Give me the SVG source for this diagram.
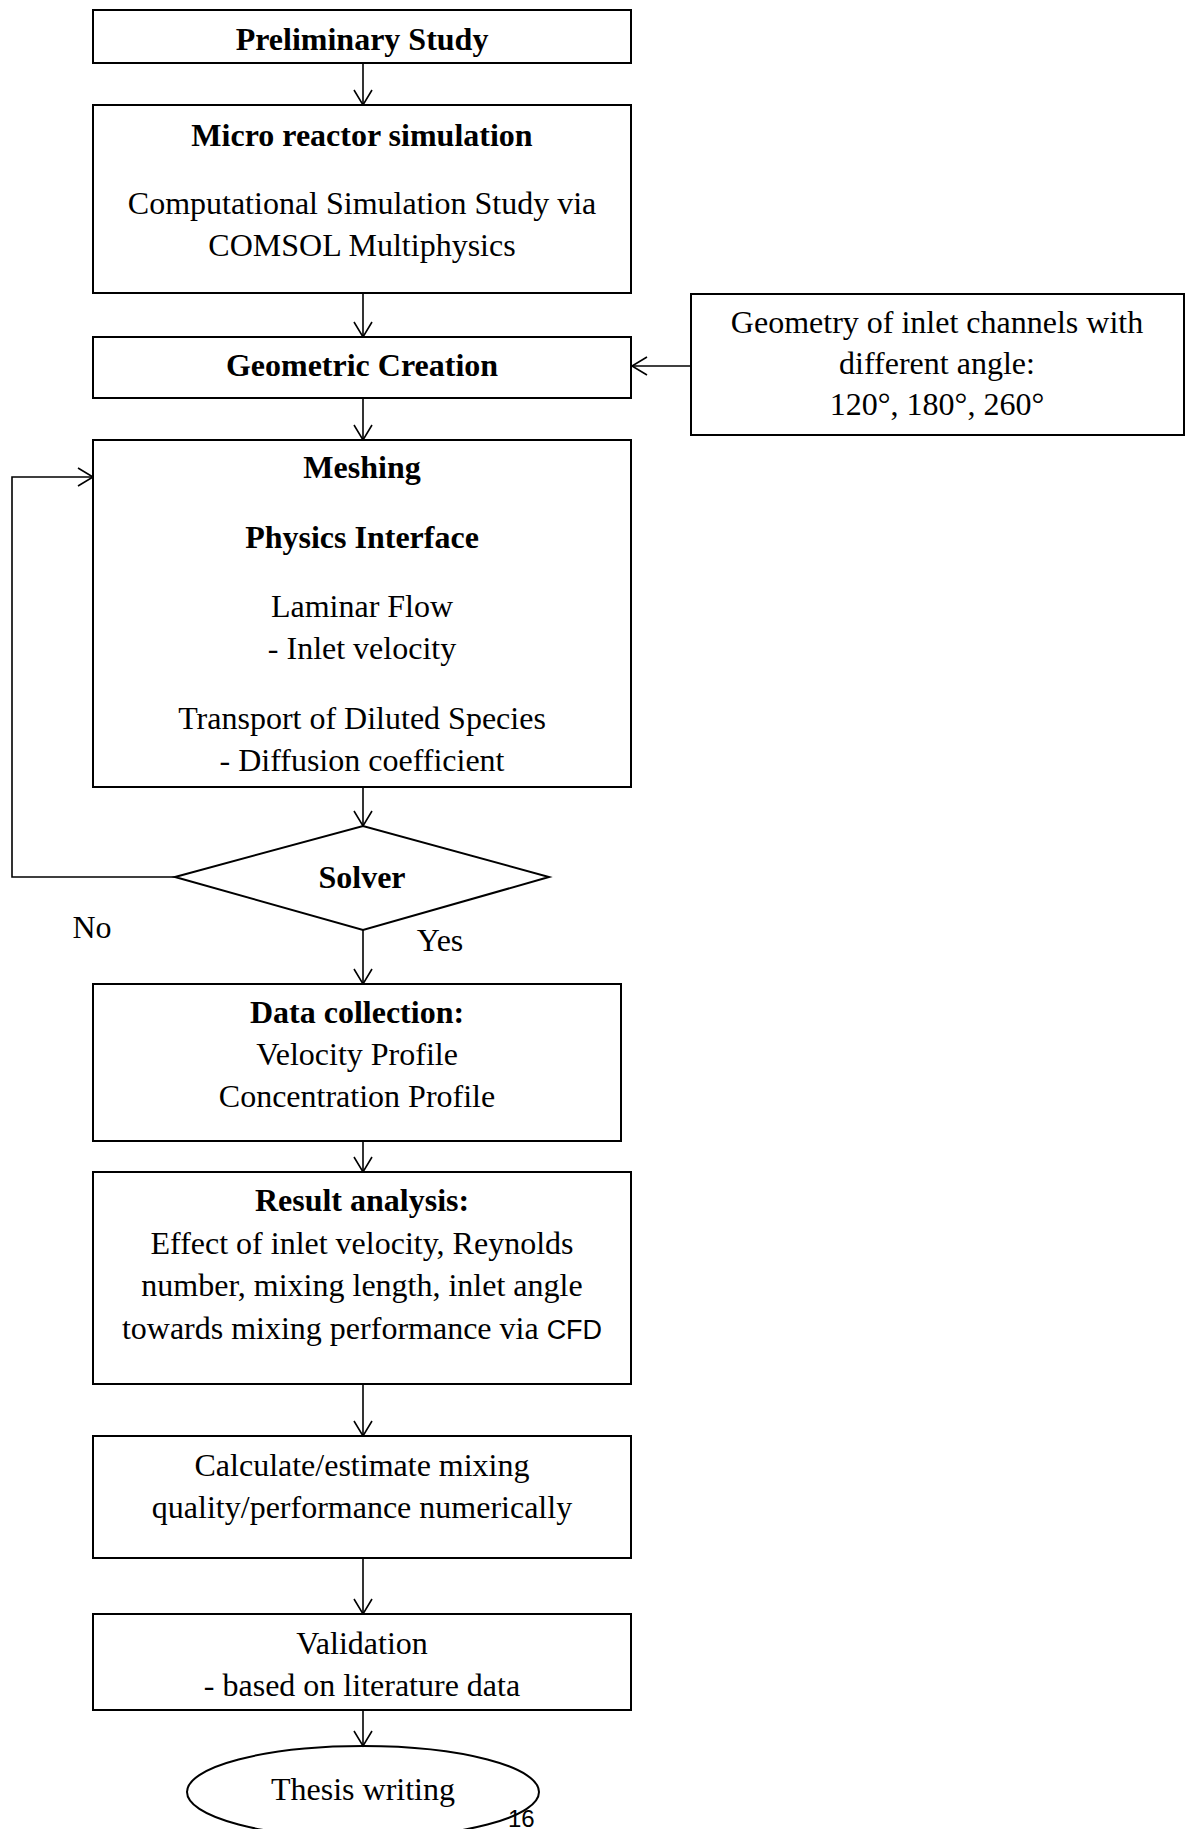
<svg xmlns="http://www.w3.org/2000/svg" width="1189" height="1829" viewBox="0 0 1189 1829">
<style>
.box{fill:#fff;stroke:#000;stroke-width:2}
.t{font-family:"Liberation Serif","Times New Roman",serif;font-size:32px;fill:#000;text-anchor:middle}
.b{font-weight:bold}
.s{font-family:"Liberation Sans",Arial,sans-serif;font-size:27px}
.c{fill:none;stroke:#000;stroke-width:1.6}
</style>
<defs>
<marker id="ah" viewBox="0 0 20 20" refX="16" refY="10" markerWidth="20" markerHeight="20" markerUnits="userSpaceOnUse" orient="auto">
<path d="M1,1 L16,10 L1,19" fill="none" stroke="#000" stroke-width="1.6"/>
</marker>
</defs>
<rect width="1189" height="1829" fill="#fff"/>

<g id="connectors">
<line class="c" x1="363" y1="63" x2="363" y2="105" marker-end="url(#ah)"/>
<line class="c" x1="363" y1="293" x2="363" y2="337" marker-end="url(#ah)"/>
<line class="c" x1="363" y1="398" x2="363" y2="440" marker-end="url(#ah)"/>
<line class="c" x1="691" y1="366" x2="632" y2="366" marker-end="url(#ah)"/>
<line class="c" x1="363" y1="787" x2="363" y2="826" marker-end="url(#ah)"/>
<polyline class="c" points="175,877 12,877 12,477 93,477" marker-end="url(#ah)"/>
<line class="c" x1="363" y1="930" x2="363" y2="984" marker-end="url(#ah)"/>
<line class="c" x1="363" y1="1141" x2="363" y2="1172" marker-end="url(#ah)"/>
<line class="c" x1="363" y1="1384" x2="363" y2="1436" marker-end="url(#ah)"/>
<line class="c" x1="363" y1="1558" x2="363" y2="1614" marker-end="url(#ah)"/>
<line class="c" x1="363" y1="1710" x2="363" y2="1746" marker-end="url(#ah)"/>
</g>

<g id="preliminary">
<rect class="box" x="93" y="10" width="538" height="53"/>
<text class="t b" x="362" y="50">Preliminary Study</text>
</g>

<g id="micro">
<rect class="box" x="93" y="105" width="538" height="188"/>
<text class="t b" x="362" y="146">Micro reactor simulation</text>
<text class="t" x="362" y="214">Computational Simulation Study via</text>
<text class="t" x="362" y="256">COMSOL Multiphysics</text>
</g>

<g id="geometric">
<rect class="box" x="93" y="337" width="538" height="61"/>
<text class="t b" x="362" y="376">Geometric Creation</text>
</g>

<g id="geometry-input">
<rect class="box" x="691" y="294" width="493" height="141"/>
<text class="t" x="937" y="333">Geometry of inlet channels with</text>
<text class="t" x="937" y="374">different angle:</text>
<text class="t" x="937" y="415">120°, 180°, 260°</text>
</g>

<g id="meshing">
<rect class="box" x="93" y="440" width="538" height="347"/>
<text class="t b" x="362" y="478">Meshing</text>
<text class="t b" x="362" y="548">Physics Interface</text>
<text class="t" x="362" y="617">Laminar Flow</text>
<text class="t" x="362" y="659">- Inlet velocity</text>
<text class="t" x="362" y="729">Transport of Diluted Species</text>
<text class="t" x="362" y="771">- Diffusion coefficient</text>
</g>

<g id="solver">
<polygon class="box" points="175,877 363,826 549,877 363,930"/>
<text class="t b" x="362" y="888">Solver</text>
</g>

<g id="labels">
<text class="t" x="92" y="938">No</text>
<text class="t" x="440" y="951">Yes</text>
</g>

<g id="data-collection">
<rect class="box" x="93" y="984" width="528" height="157"/>
<text class="t b" x="357" y="1023">Data collection:</text>
<text class="t" x="357" y="1065">Velocity Profile</text>
<text class="t" x="357" y="1107">Concentration Profile</text>
</g>

<g id="result-analysis">
<rect class="box" x="93" y="1172" width="538" height="212"/>
<text class="t b" x="362" y="1211">Result analysis:</text>
<text class="t" x="362" y="1254">Effect of inlet velocity, Reynolds</text>
<text class="t" x="362" y="1296">number, mixing length, inlet angle</text>
<text class="t" x="362" y="1339">towards mixing performance via <tspan class="s">CFD</tspan></text>
</g>

<g id="calculate">
<rect class="box" x="93" y="1436" width="538" height="122"/>
<text class="t" x="362" y="1476">Calculate/estimate mixing</text>
<text class="t" x="362" y="1518">quality/performance numerically</text>
</g>

<g id="validation">
<rect class="box" x="93" y="1614" width="538" height="96"/>
<text class="t" x="362" y="1654">Validation</text>
<text class="t" x="362" y="1696">- based on literature data</text>
</g>

<g id="thesis">
<ellipse cx="363" cy="1792" rx="176" ry="46" fill="none" stroke="#000" stroke-width="2"/>
<text class="t" x="363" y="1800">Thesis writing</text>
</g>

<text x="508" y="1827" font-family="Liberation Sans, Arial, sans-serif" font-size="24">16</text>
</svg>
